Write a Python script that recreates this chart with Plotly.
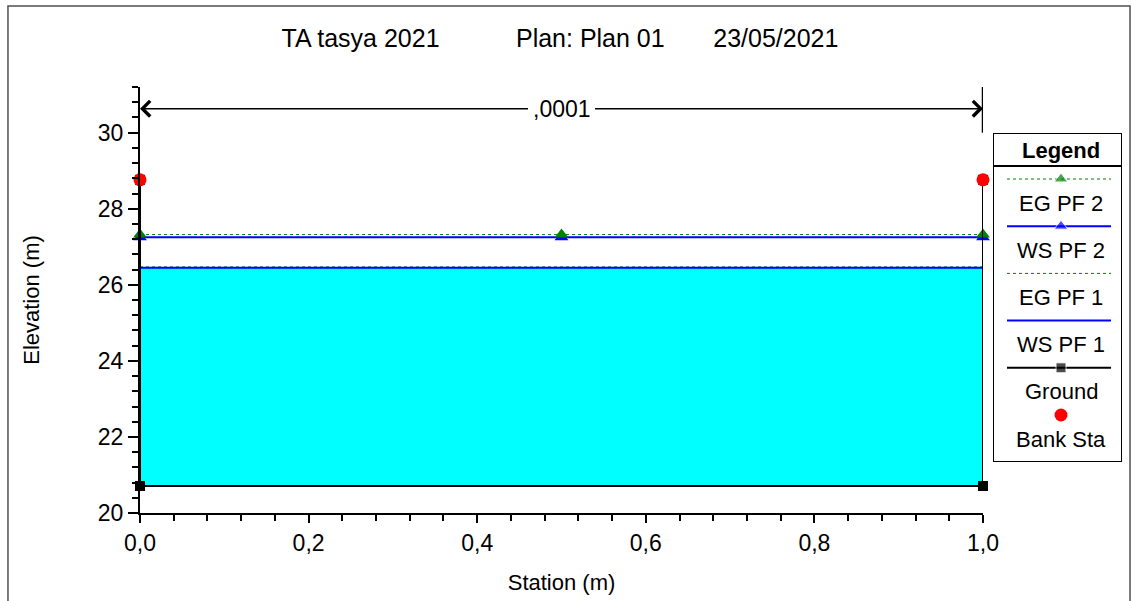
import numpy as np
import plotly.graph_objects as go

# ---------------- data ----------------
ground_sta = [0.0, 0.0, 1.0, 1.0]
ground_elev = [28.76, 20.71, 20.71, 28.76]
bank_sta = [0.0, 1.0]
bank_elev = [28.76, 28.76]
profile_sta = [0.0, 0.5, 1.0]
ws_pf1 = 26.45
eg_pf1 = 26.47
ws_pf2 = 27.25
eg_pf2 = 27.32
n_value_label = ",0001"
n_label_elev = 30.63
title_parts = ["TA tasya 2021", "Plan: Plan 01", "23/05/2021"]
legend_names = ["EG PF 2", "WS PF 2", "EG PF 1", "WS PF 1", "Ground", "Bank Sta"]

FONT = "Liberation Sans, Arial, sans-serif"
GREEN = "#008000"
BLUE = "#0000FF"

fig = go.Figure()

# water fill (ground clipped at WS PF 1)
water_y = np.minimum(np.array(ground_elev), ws_pf1)
fig.add_trace(go.Scatter(x=ground_sta + [ground_sta[0]], y=list(water_y) + [water_y[0]],
                         mode="lines", fill="toself", fillcolor="#00FFFF",
                         line=dict(width=0, color="#00FFFF"), hoverinfo="skip", showlegend=False))

n_prof = len(profile_sta)
fig.add_trace(go.Scatter(x=profile_sta, y=[eg_pf1] * n_prof, mode="lines",
                         line=dict(color=GREEN, width=1, dash="dot"), name="EG PF 1", showlegend=False))
fig.add_trace(go.Scatter(x=profile_sta, y=[ws_pf1] * n_prof, mode="lines",
                         line=dict(color=BLUE, width=2), name="WS PF 1", showlegend=False))
fig.add_trace(go.Scatter(x=profile_sta, y=[ws_pf2] * n_prof, mode="lines+markers",
                         line=dict(color=BLUE, width=2),
                         marker=dict(symbol="triangle-up", size=12, color=BLUE),
                         name="WS PF 2", showlegend=False, cliponaxis=False))
fig.add_trace(go.Scatter(x=profile_sta, y=[eg_pf2] * n_prof, mode="lines+markers",
                         line=dict(color=GREEN, width=1, dash="dot"),
                         marker=dict(symbol="triangle-up", size=12, color=GREEN),
                         name="EG PF 2", showlegend=False, cliponaxis=False))
fig.add_trace(go.Scatter(x=ground_sta, y=ground_elev, mode="lines+markers",
                         line=dict(color="black", width=2),
                         marker=dict(symbol="square", size=10, color="black"),
                         name="Ground", showlegend=False, cliponaxis=False))
fig.add_trace(go.Scatter(x=bank_sta, y=bank_elev, mode="markers",
                         marker=dict(symbol="circle", size=13, color="red"),
                         name="Bank Sta", showlegend=False, cliponaxis=False))

# ---------------- custom legend (on its own axes) ----------------
leg_w, leg_h = 129, 329
line_x = [14, 68, 118]
y0, step = 46, 47.2
styles = [
    dict(line=dict(color=GREEN, width=1, dash="dot"), marker=dict(symbol="triangle-up", size=12, color=GREEN), mode="lines+markers"),
    dict(line=dict(color=BLUE, width=2), marker=dict(symbol="triangle-up", size=12, color=BLUE), mode="lines+markers"),
    dict(line=dict(color=GREEN, width=1, dash="dot"), mode="lines"),
    dict(line=dict(color=BLUE, width=2), mode="lines"),
    dict(line=dict(color="black", width=2), marker=dict(symbol="square", size=10, color="black"), mode="lines+markers"),
    dict(marker=dict(symbol="circle", size=13, color="red"), mode="markers"),
]
annotations = []
for i, (name, st) in enumerate(zip(legend_names, styles)):
    ly = y0 + i * step
    if st["mode"] == "markers":
        xs, ys = [line_x[1]], [ly]
    else:
        xs, ys = line_x, [ly] * 3
    kw = dict(st)
    if st["mode"] == "lines+markers":
        kw["marker"] = dict(st["marker"])
        kw["marker"]["size"] = [0, st["marker"]["size"], 0]
    fig.add_trace(go.Scatter(x=xs, y=ys, xaxis="x2", yaxis="y2", showlegend=False,
                             hoverinfo="skip", **kw))
    annotations.append(dict(x=68, y=ly + 24, xref="x2", yref="y2", text=name,
                            showarrow=False, font=dict(family=FONT, size=22, color="black")))
annotations.append(dict(x=68, y=17, xref="x2", yref="y2", text="<b>Legend</b>",
                        showarrow=False, font=dict(family=FONT, size=22, color="black")))

# Manning's n arrows
for end in [bank_sta[0], bank_sta[-1]]:
    annotations.append(dict(x=end, y=n_label_elev, xref="x", yref="y",
                            ax=np.mean(bank_sta), ay=n_label_elev, axref="x", ayref="y",
                            text=n_value_label, showarrow=True, arrowhead=4, arrowsize=2,
                            arrowwidth=1.5, arrowcolor="black", standoff=0, startstandoff=0,
                            bgcolor="white", borderpad=4,
                            font=dict(family=FONT, size=23, color="black")))

shapes = [
    dict(type="rect", xref="x2", yref="y2", x0=0, x1=leg_w, y0=0, y1=leg_h,
         line=dict(color="black", width=2)),
    dict(type="line", xref="x2", yref="y2", x0=0, x1=leg_w + 4, y0=33, y1=33,
         line=dict(color="black", width=2)),
    dict(type="line", xref="x", yref="y", x0=bank_sta[-1], x1=bank_sta[-1], y0=30.0, y1=31.2,
         line=dict(color="black", width=2.5)),
    dict(type="rect", xref="paper", yref="paper", x0=-0.1331, x1=0.998, y0=-0.22, y1=1.190,
         line=dict(color="#505050", width=1.5)),
]

title_text = title_parts[0] + "\u00a0" * 11 + title_parts[1] + "\u00a0" * 7 + title_parts[2]

fig.update_layout(
    width=1132, height=601,
    margin=dict(l=140, r=0, t=87, b=88),
    paper_bgcolor="white", plot_bgcolor="white",
    separators=",.",
    title=dict(text=title_text, x=(560 - 140) / 992, xanchor="center", xref="paper",
               y=1 - 38 / 601, yanchor="middle",
               font=dict(family=FONT, size=25, color="black")),
    font=dict(family=FONT, size=22, color="black"),
    xaxis=dict(domain=[0, 843 / 992], range=[0, 1], dtick=0.2, tick0=0, tickformat=".1f",
               showline=True, linecolor="black", linewidth=2, ticks="outside", ticklen=8,
               tickwidth=2, tickcolor="black", showgrid=False, zeroline=False,
               minor=dict(dtick=0.04, tick0=0, ticks="outside", ticklen=6, tickwidth=2,
                          tickcolor="black", showgrid=False),
               tickfont=dict(family=FONT, size=23, color="black"),
               title=dict(text="Station (m)", standoff=20, font=dict(family=FONT, size=22)),
               automargin=False, anchor="y"),
    yaxis=dict(range=[20, 31.2], dtick=2, tick0=20, showline=True, linecolor="black",
               linewidth=2, ticks="outside", ticklen=10, tickwidth=2, tickcolor="black",
               showgrid=False, zeroline=False,
               minor=dict(dtick=0.4, tick0=20, ticks="outside", ticklen=6, tickwidth=2,
                          tickcolor="black", showgrid=False),
               tickfont=dict(family=FONT, size=23, color="black"),
               title=dict(text="Elevation (m)", standoff=52, font=dict(family=FONT, size=22)),
               automargin=False, anchor="x"),
    xaxis2=dict(domain=[(993 - 140) / 992, (1122 - 140) / 992], range=[0, leg_w],
                visible=False, fixedrange=True, anchor="y2"),
    yaxis2=dict(domain=[(513 - 462) / 426, (513 - 133) / 426], range=[leg_h, 0],
                visible=False, fixedrange=True, anchor="x2"),
    annotations=annotations,
    shapes=shapes,
)

fig.write_html("out.html", config={"displayModeBar": False},
               post_script="document.body.style.margin='0';")
